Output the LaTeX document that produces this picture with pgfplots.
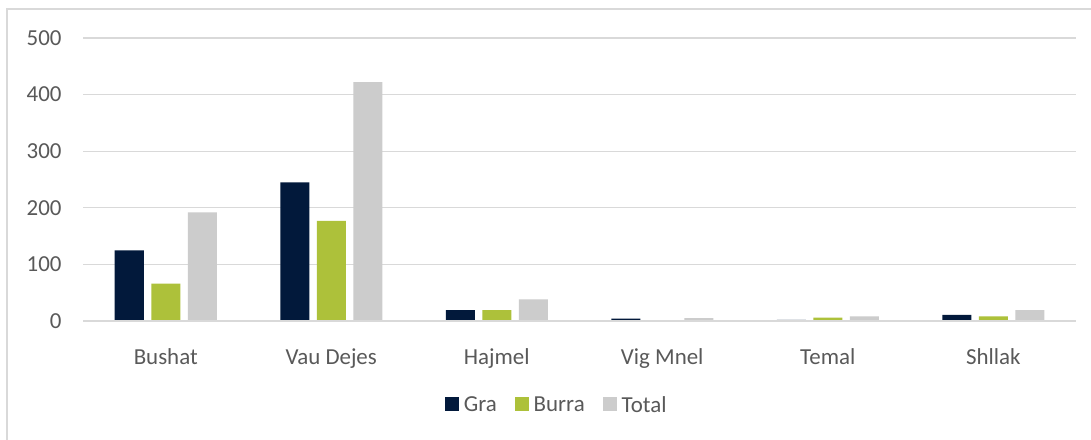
\documentclass[border=0pt]{standalone}
\usepackage{pgfplots}
\pgfplotsset{compat=1.18}
\usepackage{fontspec}
\setmainfont{Carlito}
\definecolor{gra}{RGB}{2,25,59}
\definecolor{burra}{RGB}{173,193,58}
\definecolor{total}{RGB}{204,204,204}
\definecolor{txt}{RGB}{89,89,89}
\definecolor{gridc}{RGB}{217,217,217}
\begin{document}
\begin{tikzpicture}
\useasboundingbox (0,0) rectangle (1091bp,440bp);
\fill[white] (0,0) rectangle (1091bp,440bp);
\draw[gridc, line width=1.3bp] (7bp,0) -- (7bp,431bp) -- (1091bp,431bp);
\begin{axis}[
  at={(83bp,119bp)}, anchor=south west,
  scale only axis, width=993bp, height=283bp,
  xmin=-0.5, xmax=5.5, ymin=0, ymax=500,
  ybar=7.5bp, bar width=29bp,
  xtick={0,1,2,3,4,5},
  xticklabels={Bushat,Vau Dejes,Hajmel,Vig Mnel,Temal,Shllak},
  ytick={0,100,200,300,400,500},
  /pgf/number format/assume math mode=true,
  axis line style={draw=none},
  tick style={draw=none},
  ymajorgrids, grid style={gridc, line width=1.3bp},
  font=\fontsize{23}{27}\selectfont,
  tick label style={text=txt, font=\fontsize{23}{27}\selectfont},
  yticklabel style={xshift=-18bp},
  xticklabel style={anchor=base, yshift=-39bp},
  legend style={draw=none, fill=none, at={(0.477,-0.297)}, anchor=center,
    font=\fontsize{23}{27}\selectfont, text=txt, legend columns=-1,
    /tikz/every even column/.append style={column sep=16bp}},
  legend image code/.code={\fill[#1,draw=none] (0bp,-6bp) rectangle (14bp,8bp); \path (17bp,0bp);},
]
\addplot[fill=gra, draw=none] coordinates {(0,125) (1,245) (2,19) (3,4) (4,2) (5,11)};
\addplot[fill=burra, draw=none] coordinates {(0,66) (1,177) (2,19) (3,1) (4,6) (5,8)};
\addplot[fill=total, draw=none] coordinates {(0,192) (1,422) (2,38) (3,5) (4,8) (5,19)};
\draw[gridc, line width=1.3bp] (axis cs:-0.5,0) -- (axis cs:5.5,0);
\legend{Gra,Burra,Total}
\end{axis}
\end{tikzpicture}
\end{document}
